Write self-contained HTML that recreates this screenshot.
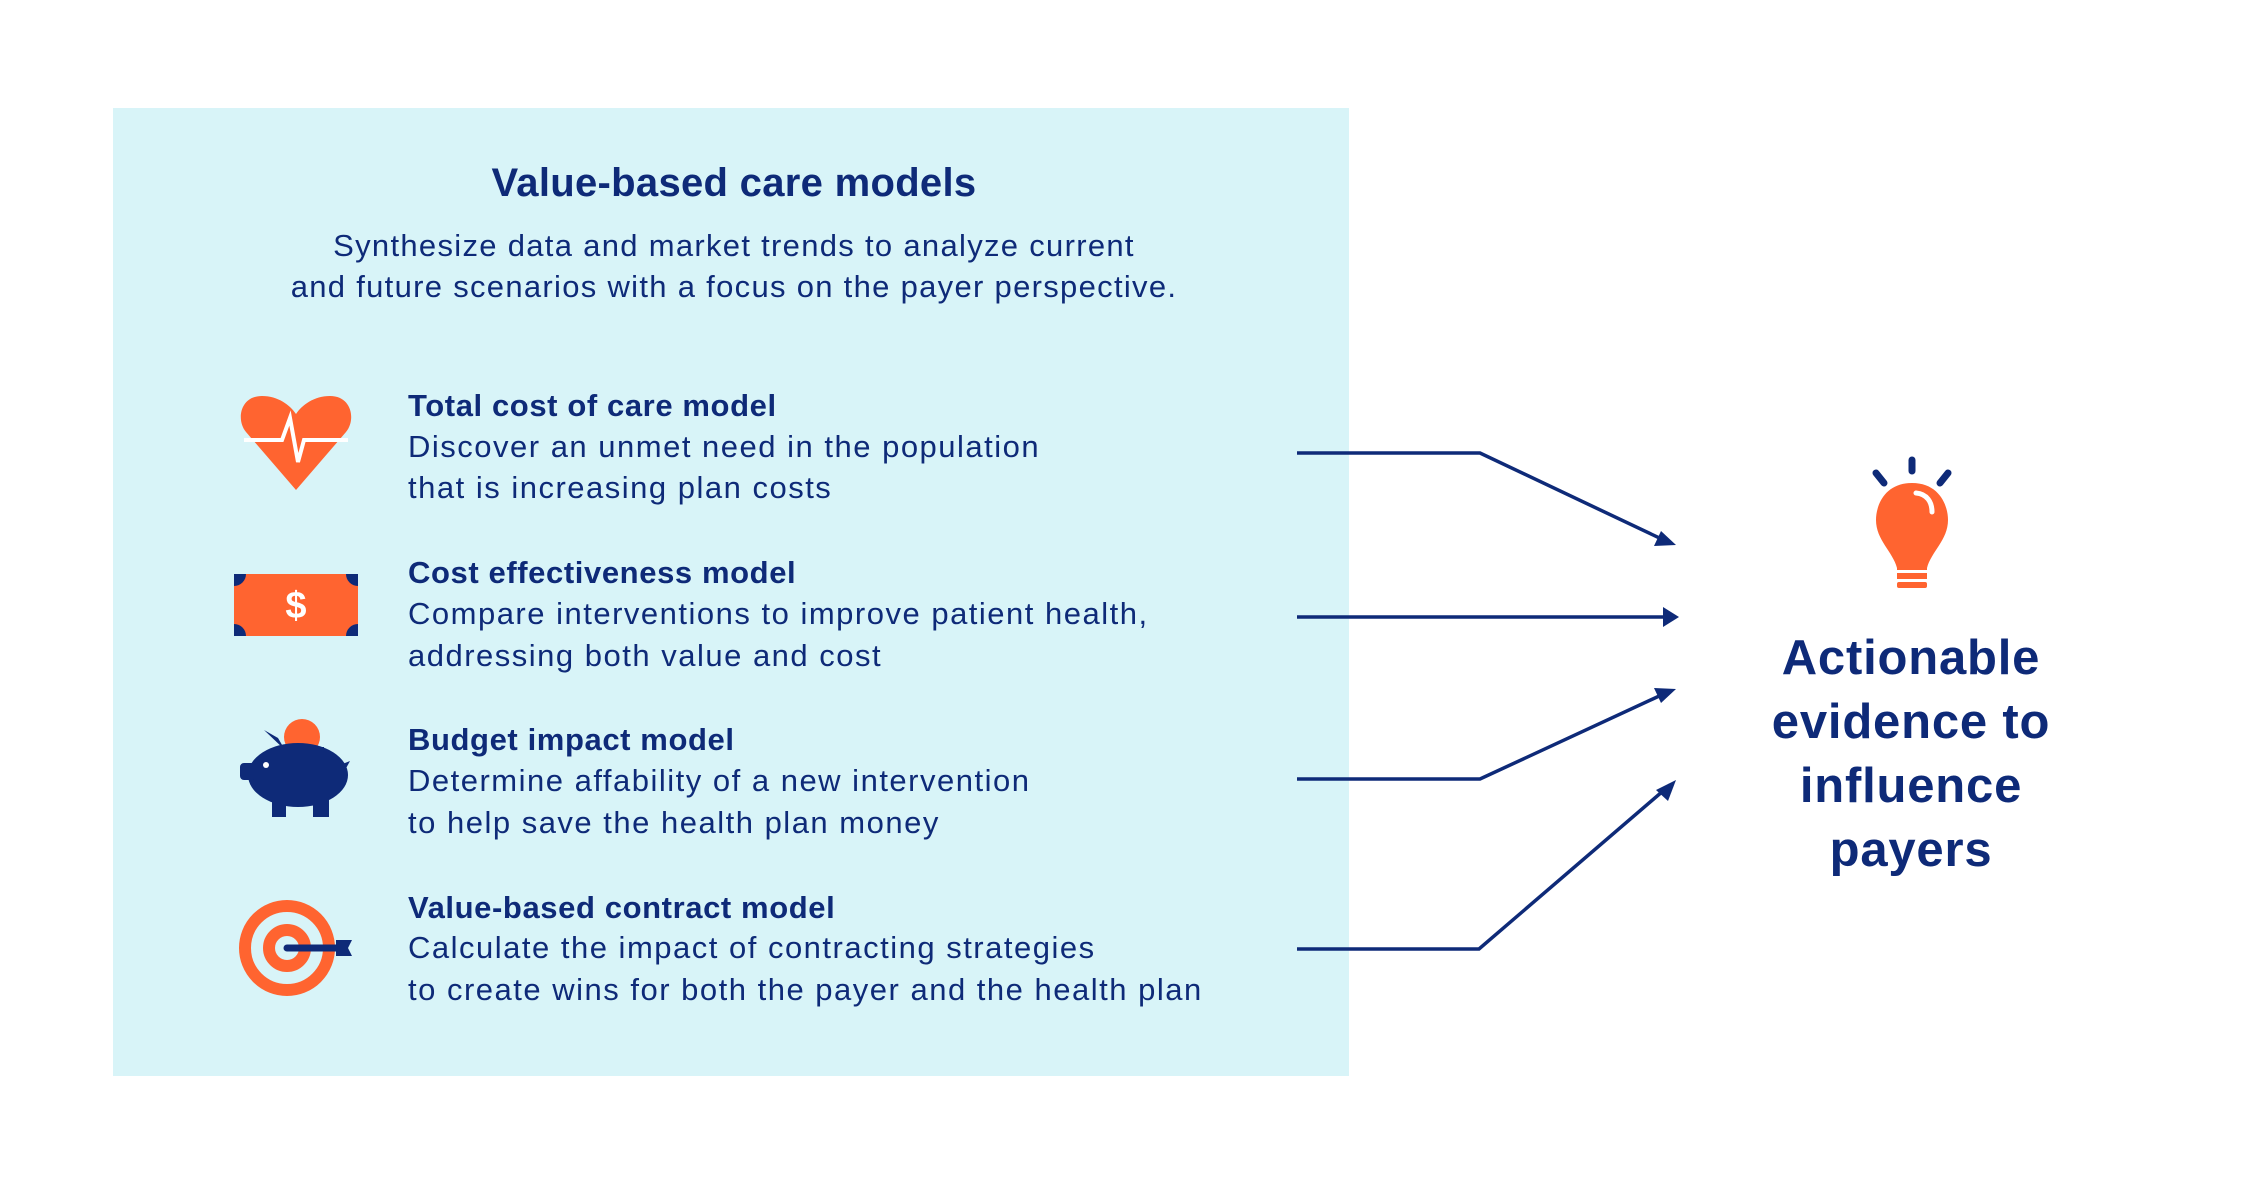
<!DOCTYPE html>
<html><head><meta charset="utf-8"><style>
html,body{margin:0;padding:0;background:#fff;}
svg{display:block;}
text{font-family:"Liberation Sans",sans-serif;fill:#0e2a78;}
</style></head><body>
<svg width="2250" height="1188" viewBox="0 0 2250 1188" xmlns="http://www.w3.org/2000/svg">
<rect x="113" y="108" width="1236" height="968" fill="#d8f4f8"/>
<text x="734" y="196" font-size="40" font-weight="bold" text-anchor="middle" letter-spacing="0.3">Value-based care models</text>
<text x="734" y="256" font-size="31" text-anchor="middle" letter-spacing="1.3">Synthesize data and market trends to analyze current</text>
<text x="734" y="297" font-size="31" text-anchor="middle" letter-spacing="1.3">and future scenarios with a focus on the payer perspective.</text>

<g font-size="31" letter-spacing="1.5">
<text x="408" y="416" font-weight="bold" letter-spacing="0.6">Total cost of care model</text>
<text x="408" y="457">Discover an unmet need in the population</text>
<text x="408" y="498">that is increasing plan costs</text>
<text x="408" y="583" font-weight="bold" letter-spacing="0.6">Cost effectiveness model</text>
<text x="408" y="624">Compare interventions to improve patient health,</text>
<text x="408" y="666">addressing both value and cost</text>
<text x="408" y="750" font-weight="bold" letter-spacing="0.6">Budget impact model</text>
<text x="408" y="791">Determine affability of a new intervention</text>
<text x="408" y="833">to help save the health plan money</text>
<text x="408" y="918" font-weight="bold" letter-spacing="0.6">Value-based contract model</text>
<text x="408" y="958">Calculate the impact of contracting strategies</text>
<text x="408" y="1000">to create wins for both the payer and the health plan</text>
</g>

<!-- heart -->
<path d="M296 490 L246 432 C236 420 240 396 262 396 C278 396 290 405 296 414 C302 405 314 396 330 396 C352 396 356 420 346 432 Z" fill="#ff6430"/>
<polyline points="244,440 282,440 290,418 298,462 304,440 348,440" fill="none" stroke="#fff" stroke-width="4"/>
<!-- money -->
<rect x="234" y="574" width="124" height="62" fill="#ff6430"/>
<path d="M234 574 h12 a12 12 0 0 1 -12 12 Z M358 574 h-12 a12 12 0 0 0 12 12 Z M234 636 h12 a12 12 0 0 0 -12 -12 Z M358 636 h-12 a12 12 0 0 1 12 -12 Z" fill="#0e2a78"/>
<text x="296" y="618" font-size="38" font-weight="bold" text-anchor="middle" style="fill:#fff">$</text>
<!-- piggy -->
<circle cx="302" cy="737" r="18" fill="#ff6430"/>
<rect x="280" y="747" width="44" height="10" fill="#0e2a78"/>
<path d="M264 730 L278 738 L285 750 Z" fill="#0e2a78"/>
<ellipse cx="298" cy="775" rx="50" ry="32" fill="#0e2a78"/>
<rect x="240" y="763" width="16" height="17" rx="4" fill="#0e2a78"/>
<path d="M340 765 L350 761 L344 772 Z" fill="#0e2a78"/>
<path d="M272 800 h14 v17 h-14 Z M313 800 h16 v17 h-16 Z" fill="#0e2a78"/>
<circle cx="266" cy="765" r="3" fill="#fff"/>
<!-- target -->
<circle cx="287" cy="948" r="42" fill="none" stroke="#ff6430" stroke-width="12"/>
<circle cx="287" cy="948" r="18" fill="none" stroke="#ff6430" stroke-width="12"/>
<line x1="287" y1="948" x2="340" y2="948" stroke="#0e2a78" stroke-width="7" stroke-linecap="round"/>
<path d="M336 940 L352 940 L348 948 L352 956 L336 956 Z" fill="#0e2a78"/>

<!-- connectors -->
<g fill="none" stroke="#0e2a78" stroke-width="3.5">
<polyline points="1297,453 1480,453 1670,543"/>
<polyline points="1297,617 1673,617"/>
<polyline points="1297,779 1480,779 1670,691"/>
<polyline points="1297,949 1479,949 1670,785"/>
</g>
<g fill="#0e2a78">
<path d="M1676,545 L1654,546 L1661,531 Z"/>
<path d="M1679,617 L1663,607 L1663,627 Z"/>
<path d="M1676,689 L1661,703 L1654,688 Z"/>
<path d="M1676,780 L1668,801 L1656,790 Z"/>
</g>

<!-- bulb -->
<g stroke="#0e2a78" stroke-width="7" stroke-linecap="round">
<line x1="1912" y1="460" x2="1912" y2="471"/>
<line x1="1876" y1="473" x2="1884" y2="483"/>
<line x1="1948" y1="473" x2="1940" y2="483"/>
</g>
<path d="M1912 483 C1885 483 1876 505 1876 520 C1876 540 1893 552 1897 568 L1927 568 C1931 552 1948 540 1948 520 C1948 505 1939 483 1912 483 Z" fill="#ff6430"/>
<path d="M1916 493 C1927 494 1932 502 1932 512" fill="none" stroke="#fff" stroke-width="5" stroke-linecap="round"/>
<rect x="1897" y="562" width="30" height="8" fill="#ff6430"/>
<rect x="1897" y="573" width="30" height="6" fill="#ff6430"/>
<rect x="1897" y="582" width="30" height="6" rx="2" fill="#ff6430"/>

<g font-size="49" font-weight="bold" text-anchor="middle" letter-spacing="0.8">
<text x="1911" y="674">Actionable</text>
<text x="1911" y="738">evidence to</text>
<text x="1911" y="802">influence</text>
<text x="1911" y="866">payers</text>
</g>
</svg>
</body></html>
